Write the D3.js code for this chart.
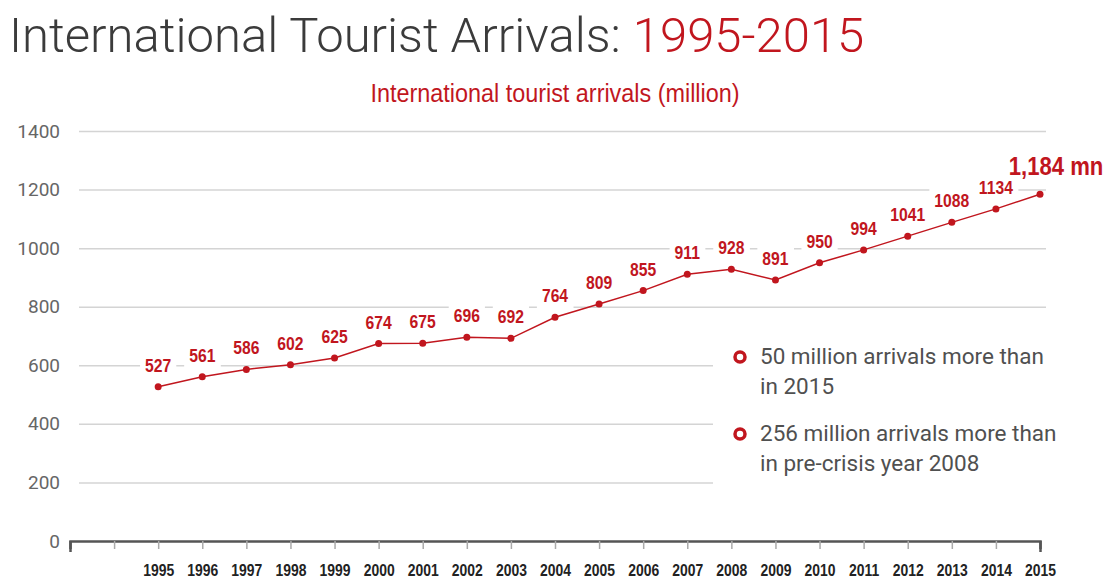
<!DOCTYPE html>
<html>
<head>
<meta charset="utf-8">
<script src="https://cdn.jsdelivr.net/npm/d3@7"></script>
<style>
  body { margin: 0; background: #fff; }
  svg { display: block; }
  .narrow { font-family: 'Liberation Sans', Arial, sans-serif; }
</style>
</head>
<body>
<svg id="chart"></svg>
<script>
let width = 1109;
let height = 578;

const RED = '#c1161e';
const SQUEEZE = 'scale(0.85,1)'; // fake a narrow face

// data
const years = [1995, 1996, 1997, 1998, 1999, 2000, 2001, 2002, 2003, 2004, 2005,
               2006, 2007, 2008, 2009, 2010, 2011, 2012, 2013, 2014, 2015];
const arrivals = [527, 561, 586, 602, 625, 674, 675, 696, 692, 764, 809,
                  855, 911, 928, 891, 950, 994, 1041, 1088, 1134, 1184];
const yTicks = [0, 200, 400, 600, 800, 1000, 1200, 1400];
const notes = [
  ['50 million arrivals more than', 'in 2015'],
  ['256 million arrivals more than', 'in pre-crisis year 2008']
];
const lastLabel = '1,184 mn';

let svg = d3.select('#chart')
  .attr('width', width)
  .attr('height', height);

// scales
let x = d3.scaleLinear()
  .domain([1993, 2015])
  .range([70, 1040]);

let y = d3.scaleLinear()
  .domain([0, 1400])
  .range([541, 131]);

// title
let title = svg.append('text')
  .attr('x', 9)
  .attr('y', 52)
  .style('font-family', 'Roboto, sans-serif')
  .style('font-weight', 300)
  .style('font-size', '49px');
title.append('tspan').attr('fill', '#3b3b3b').text('International Tourist Arrivals: ');
title.append('tspan').attr('fill', RED).text('1995-2015');

svg.append('text')
  .attr('class', 'narrow')
  .attr('transform', 'translate(555,102) scale(0.9,1)')
  .attr('text-anchor', 'middle')
  .attr('fill', RED)
  .style('font-size', '26px')
  .text('International tourist arrivals (million)');

// y axis + gridlines
let yAxis = g => g
  .attr('transform', 'translate(79,0)')
  .call(d3.axisLeft(y).tickValues(yTicks).tickFormat(d3.format('d'))
    .tickSizeInner(-(1046 - 79)).tickSizeOuter(0).tickPadding(19))
  .call(g => g.select('.domain').remove())
  .call(g => g.selectAll('.tick line').attr('stroke', '#d4d4d4').attr('stroke-width', 1.5))
  .call(g => g.selectAll('.tick').filter(d => d === 0).select('line').remove())
  .call(g => g.selectAll('.tick text')
    .attr('fill', '#666')
    .style('font-family', 'Roboto, sans-serif')
    .style('font-size', '19px'));

svg.append('g').call(yAxis);

// white box behind the notes cuts the grid
svg.append('rect')
  .attr('x', 713)
  .attr('y', 338)
  .attr('width', width - 713)
  .attr('height', 152)
  .attr('fill', '#fff');

// x axis
let xAxis = g => g
  .attr('transform', `translate(0,${y(0)})`)
  .call(d3.axisBottom(x).tickValues(d3.range(1993, 2016)).tickSizeOuter(0).tickSize(8)
    .tickFormat(d => years.includes(d) ? d : ''))
  .call(g => g.select('.domain').attr('stroke', '#555').attr('stroke-width', 2.5))
  .call(g => g.selectAll('.tick line').attr('stroke', '#aaa').attr('stroke-width', 1.5))
  .call(g => g.selectAll('.tick').filter(d => d === 1993 || d === 2015).select('line')
    .attr('stroke', '#555').attr('stroke-width', 2.5).attr('y2', 11))
  .call(g => g.selectAll('.tick text')
    .attr('class', 'narrow')
    .attr('y', 23)
    .attr('transform', 'scale(0.82,1)')
    .attr('fill', '#222')
    .style('font-weight', 'bold')
    .style('font-size', '17px'));

svg.append('g').call(xAxis);

// value labels with white backing
let labels = svg.append('g')
  .selectAll('g')
  .data(years.slice(0, -1))
  .join('g')
    .attr('transform', (d, i) => `translate(${x(d)},${y(arrivals[i]) - 15})`);

labels.append('text')
  .attr('class', 'narrow')
  .attr('transform', SQUEEZE)
  .attr('text-anchor', 'middle')
  .attr('fill', RED)
  .style('font-weight', 'bold')
  .style('font-size', '18.5px')
  .text((d, i) => arrivals[i]);

labels.each(function() {
  let b = d3.select(this).select('text').node().getBBox();
  d3.select(this).insert('rect', 'text')
    .attr('x', b.x * 0.85 - 5)
    .attr('y', b.y - 2)
    .attr('width', b.width * 0.85 + 10)
    .attr('height', b.height + 7)
    .attr('fill', '#fff');
});

svg.append('text')
  .attr('class', 'narrow')
  .attr('transform', `translate(${x(2015) + 16},${y(arrivals[arrivals.length - 1]) - 19}) ${SQUEEZE}`)
  .attr('text-anchor', 'middle')
  .attr('fill', RED)
  .style('font-weight', 'bold')
  .style('font-size', '26px')
  .text(lastLabel);

// line + points
let line = d3.line()
  .x((d, i) => x(years[i]))
  .y(d => y(d));

svg.append('path')
  .datum(arrivals)
  .attr('d', line)
  .attr('fill', 'none')
  .attr('stroke', RED)
  .attr('stroke-width', 1.5);

svg.append('g')
  .selectAll('circle')
  .data(arrivals)
  .join('circle')
    .attr('cx', (d, i) => x(years[i]))
    .attr('cy', d => y(d))
    .attr('r', 3.5)
    .attr('fill', RED);

// notes
let noteG = svg.append('g')
  .selectAll('g')
  .data(notes)
  .join('g')
    .attr('transform', (d, i) => `translate(740,${357 + i * 77})`);

noteG.append('circle')
  .attr('r', 5)
  .attr('fill', '#fff')
  .attr('stroke', RED)
  .attr('stroke-width', 3.5);

noteG.selectAll('text')
  .data(d => d)
  .join('text')
    .attr('x', 20)
    .attr('y', (d, i) => 7 + i * 30)
    .attr('fill', '#505050')
    .style('font-family', 'Roboto, sans-serif')
    .style('font-size', '22.5px')
    .text(d => d);
</script>
</body>
</html>
